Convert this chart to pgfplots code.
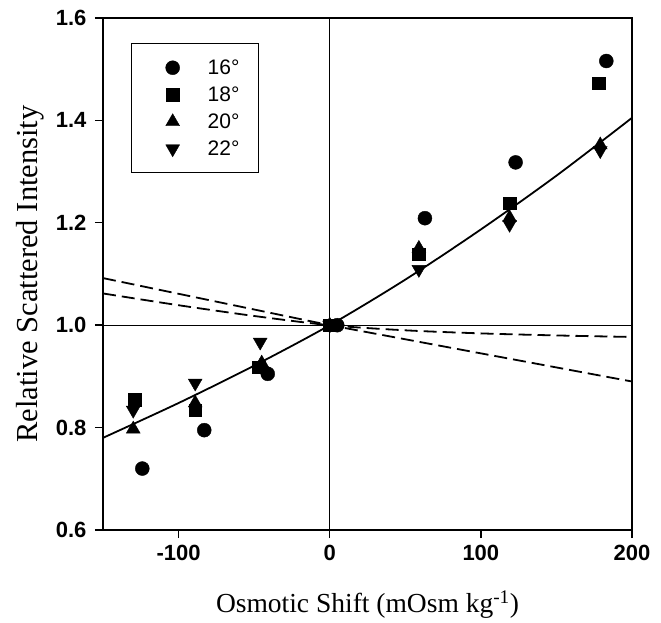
\documentclass[border=0pt]{standalone}
\usepackage{fontspec}
\setmainfont{Liberation Serif}
\newfontfamily\sansf{Liberation Sans}
\usepackage{pgfplots}
\pgfplotsset{compat=1.18}
\begin{document}
\begin{tikzpicture}
\begin{axis}[name=ax, scale only axis, width=529pt, height=512pt,
 xmin=-150, xmax=200, ymin=0.6, ymax=1.6,
 xtick={-100,0,100,200}, ytick={0.6,0.8,1.0,1.2,1.4,1.6},
 tick align=outside, xtick pos=bottom, ytick pos=left,
 major tick length=8pt,
 axis line style={line width=1.4pt},
 every tick/.style={line width=1.4pt, black},
 ticklabel style={font=\sansf\bfseries\fontsize{22}{26}\selectfont},
 xticklabel style={yshift=-4pt},
 yticklabel style={xshift=-5pt, /pgf/number format/.cd,fixed,fixed zerofill,precision=1},
 /pgf/number format/assume math mode=true,
 xlabel={Osmotic Shift (mOsm kg\textsuperscript{-1})},
 ylabel={Relative Scattered Intensity},
 xlabel style={font=\fontsize{27.5}{31}\selectfont, at={(axis description cs:0.5,-0.146)}, anchor=center},
 ylabel style={font=\fontsize{30.5}{34}\selectfont, at={(axis description cs:-0.138,0.5)}, anchor=center},
 legend style={at={(0.053,0.951)}, anchor=north west, draw=black, line width=1.3pt,
   font=\sansf\fontsize{21}{25}\selectfont, inner xsep=10pt, inner ysep=15pt,
   row sep=9pt, cells={anchor=west},
   nodes={inner sep=1pt, text height=15pt, text depth=1pt}},
 legend image code/.code={\path[draw=none,fill=none] (-31pt,0) -- (34pt,0); \draw[#1, line width=0.4pt] plot coordinates {(0pt,0pt)};},
 clip=true,
]
% reference lines
\addplot[black, line width=1.2pt, forget plot] coordinates {(-150,1) (200,1)};
\addplot[black, line width=1.2pt, forget plot] coordinates {(0,0.6) (0,1.6)};
% fitted solid line
\addplot[black, line width=1.8pt, smooth, forget plot] coordinates {
(-150,0.780) (-100,0.848) (-50,0.921) (0,1.0) (50,1.089) (100,1.187) (150,1.292) (200,1.405)};
% dashed lines
\addplot[black, line width=1.8pt, dash pattern=on 13pt off 6pt, forget plot] coordinates {
(-150,1.092) (0,1.0) (200,0.890)};
\addplot[black, line width=1.8pt, dash pattern=on 13pt off 6pt, smooth, forget plot] coordinates {
(-150,1.062) (-100,1.039) (-50,1.018) (0,1.0) (50,0.990) (100,0.984) (150,0.980) (200,0.977)};
% data
\addplot[only marks, mark=*, mark size=7pt, black] coordinates {
(-124,0.720) (-83,0.795) (-41,0.905) (5,1.0) (63,1.209) (123,1.318) (183,1.516)};
\addlegendentry{16°\hspace*{8pt}}
\addplot[only marks, mark=square*, mark size=6.3pt, black] coordinates {
(-129,0.855) (-89,0.834) (-47,0.918) (0,1.0) (59,1.139) (119,1.238) (178,1.473)};
\addlegendentry{18°\hspace*{8pt}}
\addplot[only marks, mark=triangle*, mark size=8pt, black] coordinates {
(-130,0.797) (-89,0.848) (-45,0.926) (0,1.0) (59,1.150) (119,1.210) (179,1.352)};
\addlegendentry{20°\hspace*{8pt}}
\addplot[only marks, mark=triangle*, mark size=8pt, mark options={rotate=180}, black] coordinates {
(-130,0.834) (-89,0.887) (-46,0.967) (0,1.0) (59,1.109) (119,1.197) (179,1.341)};
\addlegendentry{22°\hspace*{8pt}}
\end{axis}
\pgfresetboundingbox
\path[use as bounding box] ([shift={(-103pt,-93pt)}]ax.south west) rectangle ([shift={(29pt,18pt)}]ax.north east);
\end{tikzpicture}
\end{document}
